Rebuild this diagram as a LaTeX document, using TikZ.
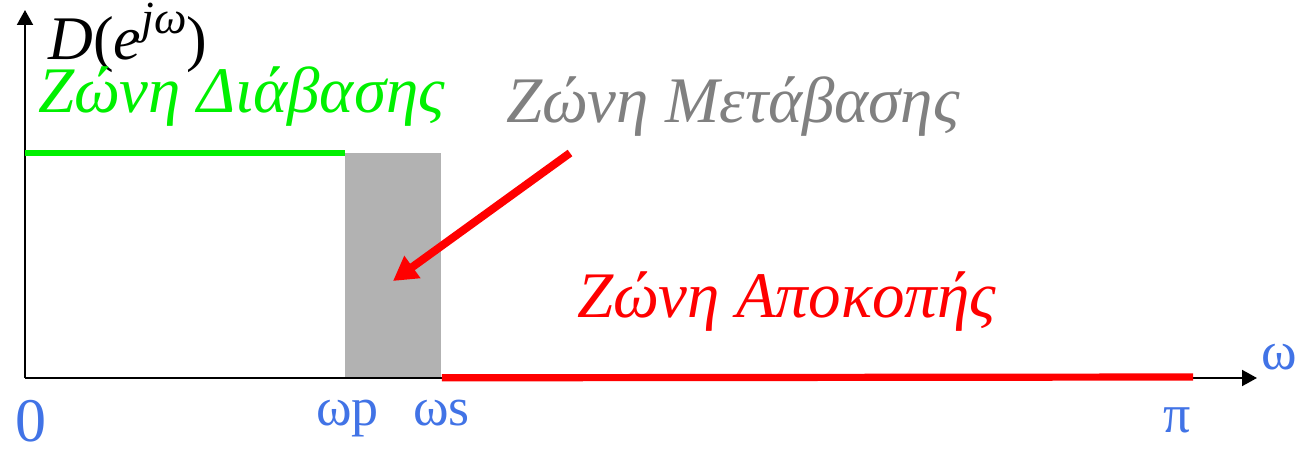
\documentclass[tikz,border=0pt]{standalone}
\usepackage{fontspec}
\setmainfont{Liberation Serif}
\usetikzlibrary{arrows.meta}
\definecolor{lblue}{RGB}{65,115,230}
\definecolor{zgreen}{RGB}{0,240,0}
\definecolor{zgray}{RGB}{128,128,128}
\definecolor{rectgray}{RGB}{178,178,178}
\tikzset{
  axis/.style={line width=1pt,-{Triangle[length=7.5pt,width=8pt]}},
  band/.style={line width=3.2pt},
  bigtxt/.style={inner sep=0pt,font=\fontsize{32.5}{32.5}\selectfont\itshape},
  blbl/.style={inner sep=0pt,text=lblue,font=\fontsize{27}{27}\selectfont},
}
\begin{document}
\begin{tikzpicture}[x=0.5pt,y=-0.5pt]
\useasboundingbox (0,0) rectangle (1314,449);
\coordinate (O) at (25,378);
\coordinate (Ytop) at (25,10);
\coordinate (Xend) at (1257,378);
\node[fill=rectgray,inner sep=0pt,minimum width=48pt,minimum height=112.5pt,anchor=north west] (trans) at (345,153) {};
\draw[axis] (O) -- (Ytop);
\draw[axis] (O) -- (Xend);
\coordinate (gA) at (25,153);
\draw[band,zgreen] (gA) -- (trans.north west);
\coordinate (rB) at (1193,377);
\draw[band,red,line width=3.6pt] (trans.south east) ++(0,-1) -- (rB);
\coordinate (aS) at (570,153);
\coordinate (aE) at (393,281);
\draw[red,line width=4pt,-{Triangle[length=12pt,width=13pt]}] (aS) -- (aE);
\node[inner sep=0pt,text depth=0pt,anchor=base west,font=\fontsize{31}{31}\selectfont] (D) at (48,60) {\textit{D}(\textit{e}\raisebox{0.42em}{\fontsize{23}{23}\selectfont\textit{jω}})};
\node[bigtxt,anchor=base west,text=zgreen] (pass) at (38,113) {Ζώνη Διάβασης};
\node[bigtxt,anchor=base west,text=zgray] (trl) at (506,123) {Ζώνη Μετάβασης};
\node[bigtxt,anchor=base west,text=red] (stop) at (577,318) {Ζώνη Αποκοπής};
\node[blbl,anchor=base west] (w) at (1261,369) {ω};
\node[inner sep=0pt,text depth=0pt,text=lblue,font=\fontsize{31}{31}\selectfont,anchor=base west] (z) at (15,441) {0};
\node[blbl,anchor=base west] (wp) at (316,425) {ωp};
\node[blbl,anchor=base west] (ws) at (413,425) {ωs};
\node[blbl,anchor=base west] (pi) at (1163,432) {π};
\end{tikzpicture}
\end{document}
